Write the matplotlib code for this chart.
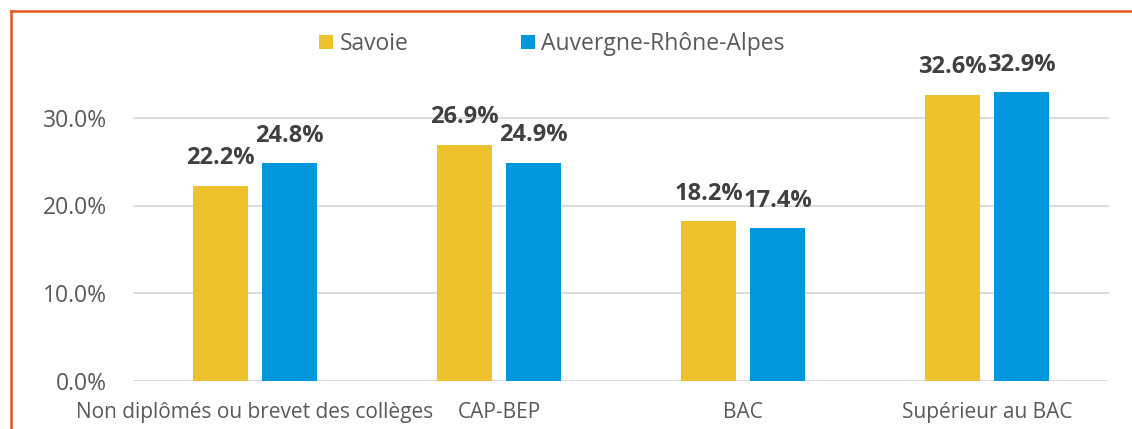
import matplotlib.pyplot as plt
from matplotlib.lines import Line2D
import numpy as np

plt.rcParams['font.family'] = ['Open Sans', 'DejaVu Sans']

# Data
categories = ["Non diplômés ou brevet des collèges", "CAP-BEP", "BAC", "Supérieur au BAC"]
savoie = [22.2, 26.9, 18.2, 32.6]
aura = [24.8, 24.9, 17.4, 32.9]
series_names = ["Savoie", "Auvergne-Rhône-Alpes"]

yellow = "#EEC22D"
blue = "#0097DC"
text_grey = "#595959"
label_grey = "#404040"

fig = plt.figure(figsize=(11.32, 4.29), dpi=100)
ax = fig.add_axes([133 / 1132, 48 / 429, 976 / 1132, 351 / 429])

x = np.arange(len(categories))
w = 0.225
off = 0.1415
b1 = ax.bar(x - off, savoie, w, color=yellow, label=series_names[0], zorder=3)
b2 = ax.bar(x + off, aura, w, color=blue, label=series_names[1], zorder=3)

# value labels above bars
for bars in (b1, b2):
    for rect in bars:
        h = rect.get_height()
        ax.annotate("%.1f%%" % h, (rect.get_x() + rect.get_width() / 2, h),
                    xytext=(0, 20), textcoords="offset points",
                    ha="center", va="center", fontsize=17, fontweight="bold",
                    color=label_grey)

ax.set_xlim(-0.5, len(categories) - 0.5)
ax.set_ylim(0, 40)
ax.set_yticks([0, 10, 20, 30])
ax.set_yticklabels(["%.1f%%" % v for v in [0, 10, 20, 30]])
ax.set_xticks(x)
ax.set_xticklabels(categories)
ax.tick_params(axis="x", length=0, labelsize=15, colors=text_grey, pad=15)
ax.tick_params(axis="y", length=0, labelsize=16.5, colors=text_grey, pad=19)
ax.grid(axis="y", color="#D9D9D9", linewidth=1.3, zorder=0)
for s in ax.spines.values():
    s.set_visible(False)

fig.legend(loc="center", bbox_to_anchor=(552 / 1132, 1 - 44 / 429), ncol=2,
           frameon=False, fontsize=16.5, handlelength=0.6, handleheight=0.6,
           handletextpad=0.3, columnspacing=4.9, labelcolor=text_grey)

# orange frame (left and top edges)
fig.add_artist(Line2D([11 / 1132, 11 / 1132], [0, 1 - 11 / 429], transform=fig.transFigure,
                      color="#E5561F", linewidth=1.8))
fig.add_artist(Line2D([11 / 1132, 1], [1 - 11 / 429, 1 - 11 / 429], transform=fig.transFigure,
                      color="#E5561F", linewidth=1.8))

fig.savefig("out.png", dpi=100)
